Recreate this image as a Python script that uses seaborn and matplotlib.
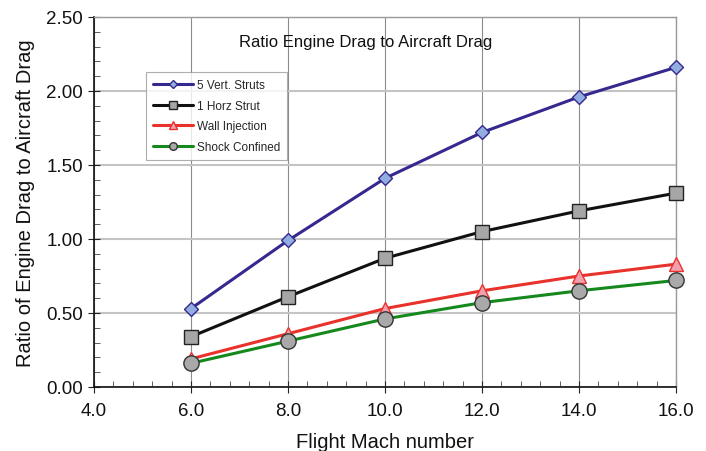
import matplotlib
matplotlib.use("Agg")
import matplotlib.pyplot as plt
from matplotlib.ticker import MultipleLocator, FormatStrFormatter
import seaborn as sns
import pandas as pd

# Flight Mach numbers and drag ratios for each configuration
mach = [6.0, 8.0, 10.0, 12.0, 14.0, 16.0]
vert_struts = [0.53, 0.99, 1.41, 1.72, 1.96, 2.16]
horz_strut = [0.34, 0.61, 0.87, 1.05, 1.19, 1.31]
wall_injection = [0.19, 0.36, 0.53, 0.65, 0.75, 0.83]
shock_confined = [0.16, 0.31, 0.46, 0.57, 0.65, 0.72]

series_names = ["5 Vert. Struts", "1 Horz Strut", "Wall Injection", "Shock Confined"]
series_values = [vert_struts, horz_strut, wall_injection, shock_confined]

x_ticks = [4.0, 6.0, 8.0, 10.0, 12.0, 14.0, 16.0]
y_ticks = [0.0, 0.5, 1.0, 1.5, 2.0, 2.5]

sns.set_theme(style="white")
plt.rcParams["font.family"] = ["Liberation Sans", "DejaVu Sans"]

df = pd.concat(
    [pd.DataFrame({"mach": mach, "ratio": v, "config": n}) for n, v in zip(series_names, series_values)],
    ignore_index=True,
)

styles = {
    "5 Vert. Struts": dict(color="#35288f", marker="D", mfc="#92aee0", mec="#35288f", ms=7.5, lms=4.5),
    "1 Horz Strut": dict(color="#111111", marker="s", mfc="#a6a6a6", mec="#222222", ms=9.5, lms=5.5),
    "Wall Injection": dict(color="#e8322b", marker="^", mfc="#f2a0b0", mec="#e8322b", ms=9.5, lms=5.5),
    "Shock Confined": dict(color="#16891e", marker="o", mfc="#a9a9a9", mec="#333333", ms=11, lms=5.5),
}

fig = plt.figure(figsize=(7.06, 4.52), dpi=100)
ax = fig.add_axes([94 / 706, 1 - 388 / 452, 582 / 706, 370 / 452])

for name in series_names:
    st = styles[name]
    sns.lineplot(
        data=df[df["config"] == name], x="mach", y="ratio", ax=ax,
        color=st["color"], lw=2.2, marker=st["marker"], markersize=st["ms"],
        markerfacecolor=st["mfc"], markeredgecolor=st["mec"], markeredgewidth=1.0,
        label=name, zorder=3, clip_on=False,
    )

ax.set_xlim(4.0, 16.0)
ax.set_ylim(0.0, 2.5)
ax.set_xticks(x_ticks)
ax.set_yticks(y_ticks)
ax.xaxis.set_major_formatter(FormatStrFormatter("%.1f"))
ax.yaxis.set_major_formatter(FormatStrFormatter("%.2f"))
ax.xaxis.set_minor_locator(MultipleLocator(0.4))
ax.yaxis.set_minor_locator(MultipleLocator(0.1))

ax.tick_params(axis="both", which="major", direction="inout", length=8, width=0.8,
               color="#222222", labelsize=13.5, labelcolor="#111111")
ax.tick_params(axis="x", which="major", pad=7)
ax.tick_params(axis="y", which="major", pad=4)
ax.tick_params(axis="both", which="minor", direction="in", length=4, width=0.6, color="#444444")
ax.tick_params(axis="x", which="both", bottom=True)
ax.tick_params(axis="y", which="both", left=True)

# gridlines: vertical thin dark gray, horizontal light gray
ax.xaxis.grid(True, which="major", color="#8c8c8c", lw=0.8)
ax.yaxis.grid(True, which="major", color="#c4c4c4", lw=1.5)
ax.set_axisbelow(True)

for side in ["left", "bottom"]:
    ax.spines[side].set_color("#111111")
    ax.spines[side].set_linewidth(1.2)
for side in ["top", "right"]:
    ax.spines[side].set_color("#9a9a9a")
    ax.spines[side].set_linewidth(1.0)
    ax.spines[side].set_visible(True)

ax.set_xlabel("Flight Mach number", fontsize=14.5, color="#111111", labelpad=9)
ax.set_ylabel("Ratio of Engine Drag to Aircraft Drag", fontsize=14.5, color="#111111", labelpad=8)

ax.text(0.467, 0.935, "Ratio Engine Drag to Aircraft Drag", transform=ax.transAxes,
        ha="center", va="center", fontsize=12, color="#111111")

leg = ax.legend(loc="upper left", bbox_to_anchor=(0.089, 0.851), borderaxespad=0,
                fontsize=8.5, frameon=True, fancybox=False, handlelength=3.4,
                labelspacing=0.72, handletextpad=0.3, borderpad=0.6)
leg.get_frame().set_edgecolor("#9a9a9a")
leg.get_frame().set_linewidth(0.8)
for h, name in zip(leg.get_lines(), series_names):
    h.set_markersize(styles[name]["lms"])

fig.savefig("out.png", dpi=100)
